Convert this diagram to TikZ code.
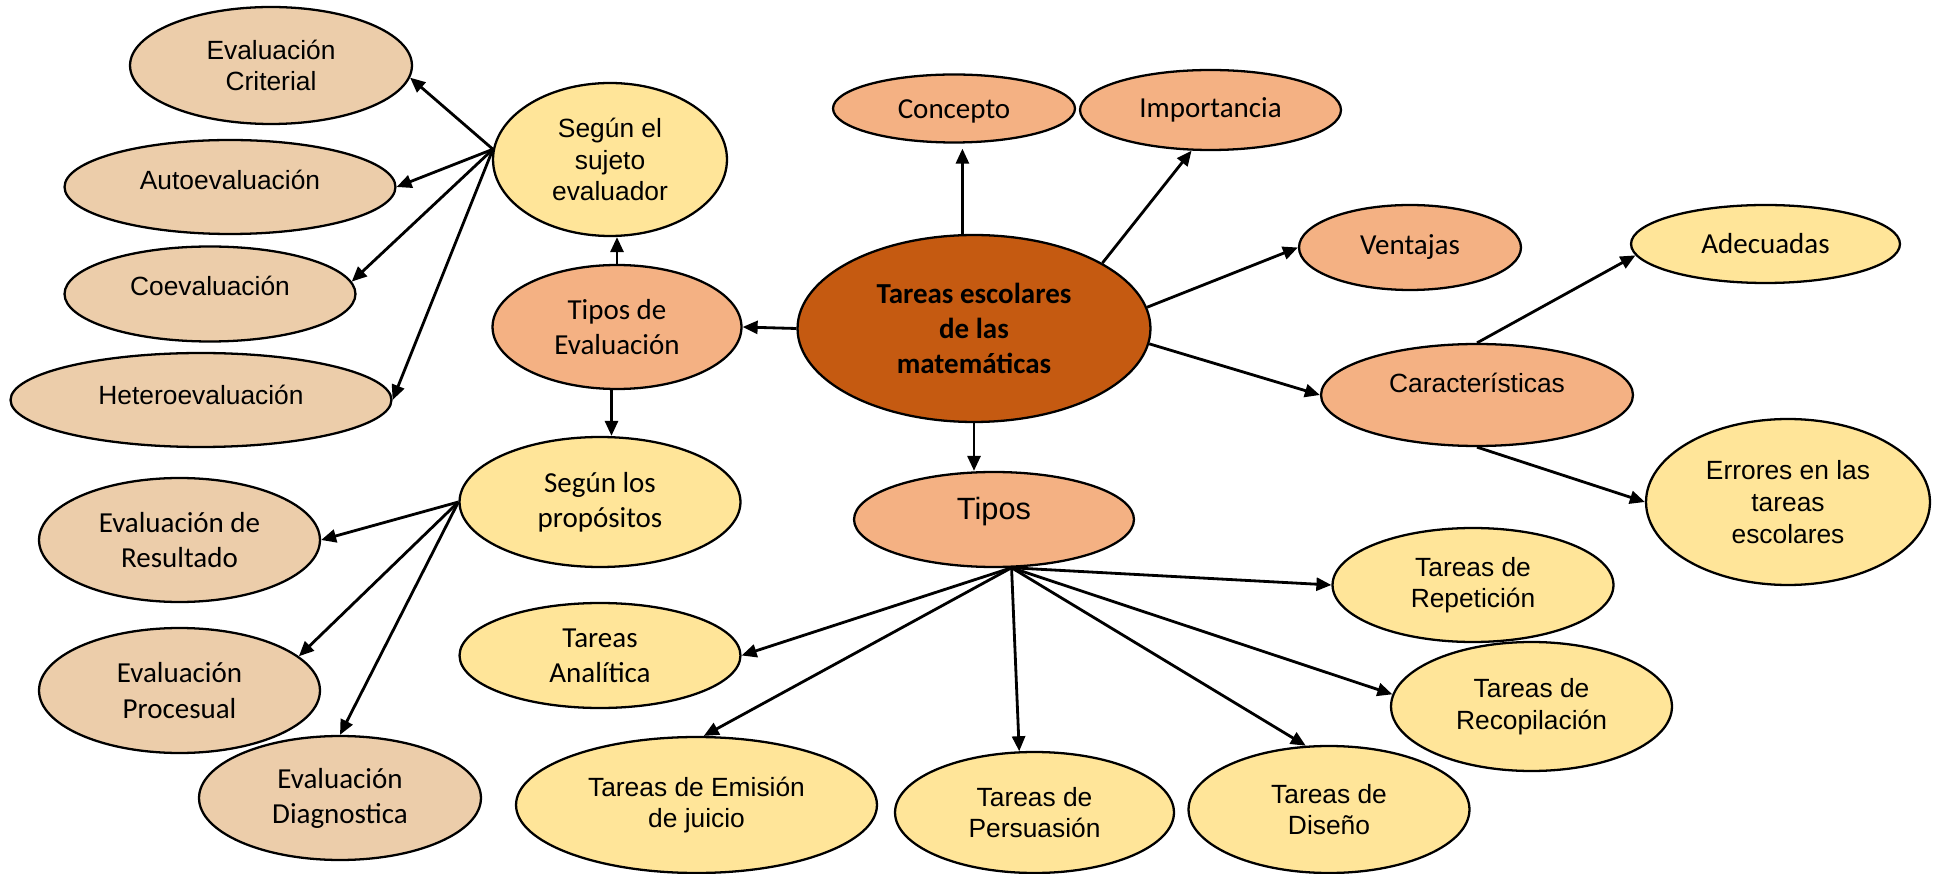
\documentclass[tikz,border=0pt]{standalone}
\usepackage{fontspec}
\setmainfont{Liberation Sans}
\newfontfamily\calibri{Carlito}
\usetikzlibrary{shapes.geometric,arrows.meta}
\definecolor{tanc}{RGB}{236,205,170}
\definecolor{yelc}{RGB}{255,229,153}
\definecolor{salc}{RGB}{244,177,131}
\definecolor{mainc}{RGB}{197,90,17}
\newcommand{\upby}[2]{\raisebox{#1}[\height][\depth]{#2}}

\begin{document}
\begin{tikzpicture}[x=0.02cm,y=-0.02cm,
  elli/.style={ellipse,draw,line width=1.3pt,inner sep=0pt,align=center},
  arialtxt/.style={font=\fontsize{15}{18}\selectfont},
  calitxt/.style={font=\calibri\fontsize{16.5}{20}\selectfont},
  tanfill/.style={elli,fill=tanc},
  yelfill/.style={elli,fill=yelc},
  salfill/.style={elli,fill=salc},
  arr/.style={line width=1.6pt,-{Triangle[length=0.3cm,width=0.26cm]}}]
\useasboundingbox (0,0) rectangle (1937,874);

\node[elli,fill=mainc,font=\calibri\bfseries\fontsize{16.5}{20}\selectfont,minimum width=7.06cm,minimum height=3.74cm] (centro) at (974,328.5) {Tareas escolares\\de las\\matemáticas};

\node[salfill,calitxt,minimum width=4.84cm,minimum height=1.36cm] (concepto) at (954,108.5) {\upby{-0.06cm}{Concepto}};
\node[salfill,calitxt,minimum width=5.22cm,minimum height=1.60cm] (importancia) at (1210.5,110) {Importancia};
\node[salfill,calitxt,minimum width=4.44cm,minimum height=1.70cm] (ventajas) at (1410,247.5) {Ventajas};
\node[yelfill,calitxt,minimum width=5.38cm,minimum height=1.56cm] (adecuadas) at (1765.5,244) {Adecuadas};
\node[salfill,arialtxt,minimum width=6.24cm,minimum height=2.04cm] (caract) at (1477,395) {\upby{0.25cm}{Características}};
\node[yelfill,arialtxt,minimum width=5.68cm,minimum height=3.32cm] (errores) at (1788,502) {Errores en las\\tareas\\escolares};

\node[salfill,font=\fontsize{17.5}{20}\selectfont,minimum width=5.60cm,minimum height=1.90cm] (tipos) at (994,519.5) {\upby{0.15cm}{Tipos}};
\node[yelfill,arialtxt,minimum width=5.62cm,minimum height=2.28cm] (repeticion) at (1473,585) {Tareas de\\Repetición};
\node[yelfill,arialtxt,minimum width=5.62cm,minimum height=2.58cm] (recopilacion) at (1531.5,706.5) {Tareas de\\Recopilación};
\node[yelfill,arialtxt,minimum width=5.62cm,minimum height=2.54cm] (diseno) at (1329,809.5) {Tareas de\\Diseño};
\node[yelfill,arialtxt,minimum width=5.58cm,minimum height=2.42cm] (persuasion) at (1034.5,812.5) {Tareas de\\Persuasión};
\node[yelfill,arialtxt,minimum width=7.22cm,minimum height=2.72cm] (emision) at (696.5,805) {Tareas de Emisión\\de juicio};
\node[yelfill,calitxt,minimum width=5.62cm,minimum height=2.10cm] (analitica) at (600,655.5) {Tareas\\Analítica};

\node[salfill,calitxt,minimum width=4.98cm,minimum height=2.48cm] (tiposev) at (617,327) {Tipos de\\Evaluación};
\node[yelfill,arialtxt,minimum width=4.68cm,minimum height=3.06cm] (sujeto) at (610,159.5) {Según el\\sujeto\\evaluador};
\node[yelfill,calitxt,minimum width=5.62cm,minimum height=2.60cm] (proposit) at (600,502) {Según los\\propósitos};

\node[tanfill,arialtxt,minimum width=5.64cm,minimum height=2.34cm] (crit) at (271,65.5) {Evaluación\\Criterial};
\node[tanfill,arialtxt,minimum width=6.62cm,minimum height=1.88cm] (auto) at (230,187) {\upby{0.15cm}{Autoevaluación}};
\node[tanfill,arialtxt,minimum width=5.82cm,minimum height=1.90cm] (coev) at (210,294) {\upby{0.17cm}{Coevaluación}};
\node[tanfill,arialtxt,minimum width=7.62cm,minimum height=1.88cm] (hetero) at (201,400) {\upby{0.1cm}{Heteroevaluación}};

\node[tanfill,calitxt,minimum width=5.62cm,minimum height=2.48cm] (resultado) at (179.5,540) {Evaluación de\\Resultado};
\node[tanfill,calitxt,minimum width=5.62cm,minimum height=2.50cm] (procesual) at (179.5,690.5) {Evaluación\\Procesual};
\node[tanfill,calitxt,minimum width=5.64cm,minimum height=2.48cm] (diagnostica) at (340,798) {Evaluación\\Diagnostica};

\draw[arr] (centro.west) -- (tiposev.east);
\draw[arr,shorten >=0.1cm] (centro.97) -- (centro.97 |- concepto.south);
\draw[arr] (centro.27) -- (importancia.-115);
\draw[arr] (centro.7) -- (ventajas.west);
\draw[arr] (centro.-5) -- (caract.west);
\draw[arr] (centro.south) -- (centro.south |- tipos.north);
\draw[arr] (caract.north) -- (adecuadas.185);
\draw[arr] (caract.south) -- (errores.west);
\draw[arr] (tiposev.north) -- (tiposev.north |- sujeto.south);
\draw[arr] (tiposev.-95) -- (tiposev.-95 |- proposit.north);

\foreach \t/\a in {crit/-5,auto/east,coev/5,hetero/east}
  \draw[arr] (sujeto.175) -- (\t.\a);
\foreach \t/\a in {resultado/east,procesual/16,diagnostica/north}
  \draw[arr] (proposit.west) -- (\t.\a);
\foreach \t/\a in {analitica/east,emision/84,persuasion/104,diseno/110,recopilacion/175,repeticion/west}
  \draw[arr] (tipos.-70) -- (\t.\a);
\end{tikzpicture}
\end{document}
